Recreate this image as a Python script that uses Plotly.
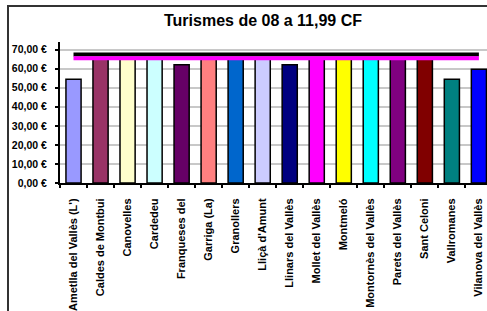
import plotly.graph_objects as go

categories = [
    "Ametlla del Vallès (L')", "Caldes de Montbui", "Canovelles", "Cardedeu",
    "Franqueses del", "Garriga (La)", "Granollers", "Lliçà d'Amunt",
    "Llinars del Vallès", "Mollet del Vallès", "Montmeló", "Montornès del Vallès",
    "Parets del Vallès", "Sant Celoni", "Vallromanes", "Vilanova del Vallès",
]
values = [54.5, 65.0, 65.0, 65.0, 62.0, 65.0, 65.0, 65.0,
          62.0, 65.0, 65.0, 65.0, 65.0, 65.0, 54.5, 59.7]
bar_colors = ["#9999FF", "#993366", "#FFFFCC", "#CCFFFF", "#660066", "#FF8080",
              "#0066CC", "#CCCCFF", "#000080", "#FF00FF", "#FFFF00", "#00FFFF",
              "#800080", "#800000", "#008080", "#0000FF"]
line_black = [67.5] * len(categories)
line_magenta = [65.5] * len(categories)
ytick_vals = [0, 10, 20, 30, 40, 50, 60, 70]
ytick_text = ["0,00 €", "10,00 €", "20,00 €", "30,00 €", "40,00 €", "50,00 €", "60,00 €", "70,00 €"]
title_text = "Turismes de 08 a 11,99 CF"

FONT = "Arial, Liberation Sans, sans-serif"

fig = go.Figure()
fig.add_trace(go.Bar(
    x=categories, y=values, width=0.56,
    marker=dict(color=bar_colors, line=dict(color="black", width=1.5)),
))
fig.add_trace(go.Scatter(x=categories, y=line_black, mode="lines",
                         line=dict(color="black", width=4)))
fig.add_trace(go.Scatter(x=categories, y=line_magenta, mode="lines",
                         line=dict(color="#FF00FF", width=4)))

W, H = 487, 311
L, R, T, B = 60, 0, 42, 128
pw, ph = W - L - R, H - T - B

def px_x(x):
    return (x - L) / pw

def px_y(y):
    return (H - B - y) / ph

fig.update_layout(
    width=W, height=H,
    margin=dict(l=L, r=R, t=T, b=B, autoexpand=False),
    paper_bgcolor="white", plot_bgcolor="white",
    showlegend=False,
    bargap=0.44,
    font=dict(family=FONT, color="black"),
    title=dict(text="<b>" + title_text + "</b>", x=263 / W, xanchor="center",
               y=1 - 20 / H, yanchor="middle", yref="container",
               font=dict(size=16, family=FONT, color="black")),
    xaxis=dict(
        type="category", range=[-0.5, 15.3], automargin=False,
        tickangle=-90, tickson="boundaries", ticks="outside", ticklen=3,
        tickcolor="black", tickwidth=1.5,
        showline=True, linecolor="black", linewidth=2,
        showgrid=False,
        tickfont=dict(size=11, family=FONT, color="black", weight="bold"),
        ticklabelstandoff=9,
    ),
    yaxis=dict(
        range=[0, 74], tickvals=ytick_vals, ticktext=ytick_text, automargin=False,
        ticks="outside", ticklen=3, tickcolor="black", tickwidth=1.5,
        showline=True, linecolor="black", linewidth=2,
        showgrid=True, gridcolor="#C8C8C8", gridwidth=1.5,
        zeroline=False,
        tickfont=dict(size=10.5, family=FONT, color="black", weight="bold"),
        ticklabelstandoff=6,
    ),
)

# outer chart frame (only left and top edges are visible in the window)
fig.add_shape(type="line", xref="paper", yref="paper",
              x0=px_x(8), x1=px_x(8), y0=px_y(320), y1=px_y(6),
              line=dict(color="#333333", width=2), layer="above")
fig.add_shape(type="line", xref="paper", yref="paper",
              x0=px_x(7), x1=px_x(495), y0=px_y(6), y1=px_y(6),
              line=dict(color="#333333", width=2), layer="above")

fig.write_html("out.html",
               config={"displayModeBar": False},
               post_script=("document.documentElement.style.overflow='hidden';"
                            "document.body.style.margin='0px';"
                            "document.body.style.overflow='hidden';"))
